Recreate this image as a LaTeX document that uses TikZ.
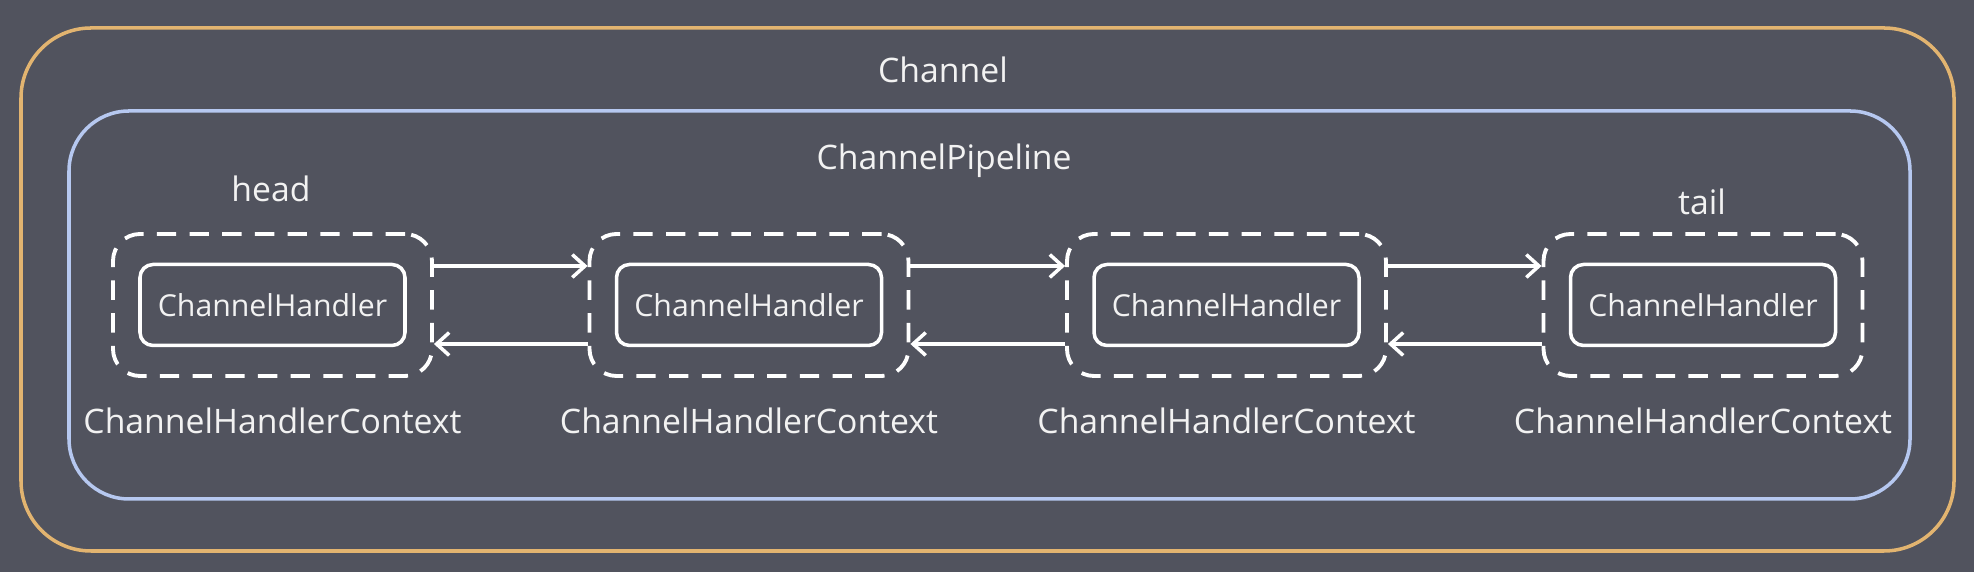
\documentclass[tikz,border=0pt]{standalone}
\usepackage{fontspec}
\setmainfont{Open Sans}
\usetikzlibrary{arrows.meta,positioning}
\definecolor{bgcol}{RGB}{81,83,94}
\definecolor{chancol}{RGB}{226,180,112}
\definecolor{pipecol}{RGB}{182,200,240}
\definecolor{txtcol}{RGB}{242,242,242}

\begin{document}
\begin{tikzpicture}[every node/.style={font=\fontsize{9.6}{11}\selectfont,text=txtcol},
  chanbox/.style={draw=chancol,line width=1pt,rounded corners=0.7cm,minimum width=19.33cm,minimum height=5.23cm},
  pipebox/.style={draw=pipecol,line width=1pt,rounded corners=0.6cm,minimum width=18.41cm,minimum height=3.88cm},
  ctxbox/.style={draw=white,line width=1.1pt,dash pattern=on 5.5pt off 3.8pt,rounded corners=0.27cm,minimum width=3.19cm,minimum height=1.42cm},
  hdlbox/.style={draw=white,line width=1pt,rounded corners=0.13cm,minimum width=2.65cm,minimum height=0.81cm,font=\fontsize{8.6}{10}\selectfont},
  flow/.style={draw=white,line width=1pt,-{Straight Barb[length=3.6pt,width=6.5pt]}}]
\fill[bgcol] (0,0) rectangle (19.74,5.72);
\useasboundingbox (0,0) rectangle (19.74,5.72);
\node[chanbox] (channel) at (9.875,2.825) {};
\node[pipebox] (pipeline) at (9.895,2.67) {};
\node (chanlbl) at (9.43,5.02) {Channel};
\node (pipelbl) at (9.44,4.11) {ChannelPipeline};
% contexts
\node[ctxbox] (ctx1) at (2.725,2.67) {};
\node[ctxbox] (ctx2) at (7.49,2.67) {};
\node[ctxbox] (ctx3) at (12.265,2.67) {};
\node[ctxbox] (ctx4) at (17.03,2.67) {};
\node[hdlbox] (hdl1) at (ctx1) {ChannelHandler};
\node[hdlbox] (hdl2) at (ctx2) {ChannelHandler};
\node[hdlbox] (hdl3) at (ctx3) {ChannelHandler};
\node[hdlbox] (hdl4) at (ctx4) {ChannelHandler};
\node (headlbl) at (2.71,3.83) {head};
\node (taillbl) at (17.02,3.70) {tail};
\node[below=0.18cm of ctx1] (ctxlbl1) {ChannelHandlerContext};
\node[below=0.18cm of ctx2] (ctxlbl2) {ChannelHandlerContext};
\node[below=0.18cm of ctx3] (ctxlbl3) {ChannelHandlerContext};
\node[below=0.18cm of ctx4] (ctxlbl4) {ChannelHandlerContext};
% links
\draw[flow] ([yshift=0.39cm]ctx1.east) -- ([yshift=0.39cm]ctx2.west);
\draw[flow] ([yshift=-0.39cm]ctx2.west) -- ([yshift=-0.39cm]ctx1.east);
\draw[flow] ([yshift=0.39cm]ctx2.east) -- ([yshift=0.39cm]ctx3.west);
\draw[flow] ([yshift=-0.39cm]ctx3.west) -- ([yshift=-0.39cm]ctx2.east);
\draw[flow] ([yshift=0.39cm]ctx3.east) -- ([yshift=0.39cm]ctx4.west);
\draw[flow] ([yshift=-0.39cm]ctx4.west) -- ([yshift=-0.39cm]ctx3.east);
\end{tikzpicture}
\end{document}
